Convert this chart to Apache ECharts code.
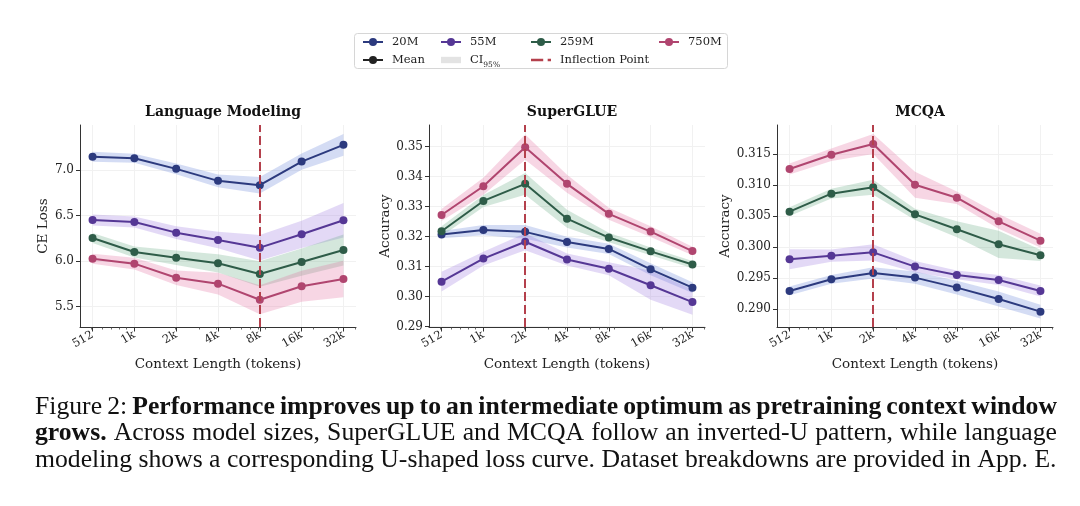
<!DOCTYPE html>
<html>
<head>
<meta charset="utf-8">
<script src="https://cdn.jsdelivr.net/npm/echarts@6/dist/echarts.min.js"></script>
<style>html,body{margin:0;padding:0;background:#fff}#c{width:1080px;height:506px}</style>
</head>
<body>
<div id="c"></div>
<script>
// ---------------- data ----------------
const contextLabels = ['512', '1k', '2k', '4k', '8k', '16k', '32k'];
const contextTokens = [512, 1024, 2048, 4096, 8192, 16384, 32768];
const minorTokens = [500, 600, 700, 800, 900, 2000, 3000, 4000, 5000, 6000, 7000, 8000, 9000, 20000, 30000, 40000];
const modelNames = ['20M', '55M', '259M', '750M'];
const panelTitles = ['Language Modeling', 'SuperGLUE', 'MCQA'];
const yAxisNames = ['CE Loss', 'Accuracy', 'Accuracy'];
const inflectionTokens = [8192, 2048, 2048];

// Language Modeling (CE loss), mean and CI half-width
const lm20 = [7.147, 7.132, 7.015, 6.883, 6.835, 7.095, 7.279];
const lm55 = [6.453, 6.431, 6.314, 6.233, 6.149, 6.296, 6.450];
const lm259 = [6.255, 6.101, 6.039, 5.977, 5.859, 5.991, 6.123];
const lm750 = [6.028, 5.973, 5.819, 5.753, 5.577, 5.724, 5.804];
const lm20ci = [0.055, 0.05, 0.06, 0.07, 0.09, 0.09, 0.12];
const lm55ci = [0.06, 0.06, 0.07, 0.09, 0.14, 0.15, 0.19];
const lm259ci = [0.055, 0.06, 0.08, 0.10, 0.14, 0.15, 0.17];
const lm750ci = [0.055, 0.065, 0.08, 0.12, 0.16, 0.17, 0.20];

// SuperGLUE accuracy
const sg20 = [0.3207, 0.3222, 0.3216, 0.3182, 0.3159, 0.3091, 0.3030];
const sg55 = [0.3050, 0.3127, 0.3183, 0.3124, 0.3093, 0.3038, 0.2982];
const sg259 = [0.3218, 0.3319, 0.3376, 0.3260, 0.3197, 0.3151, 0.3107];
const sg750 = [0.3272, 0.3368, 0.3498, 0.3376, 0.3276, 0.3217, 0.3152];
const sg20ci = [0.0012, 0.0017, 0.0023, 0.0018, 0.0017, 0.0020, 0.0018];
const sg55ci = [0.0033, 0.0023, 0.0028, 0.0020, 0.0022, 0.0048, 0.0042];
const sg259ci = [0.0017, 0.0020, 0.0036, 0.0030, 0.0016, 0.0013, 0.0012];
const sg750ci = [0.0020, 0.0028, 0.0042, 0.0030, 0.0020, 0.0018, 0.0014];

// MCQA accuracy
const mc20 = [0.29295, 0.29483, 0.29585, 0.29510, 0.29349, 0.29166, 0.28962];
const mc55 = [0.29805, 0.29864, 0.29917, 0.29687, 0.29553, 0.29472, 0.29295];
const mc259 = [0.30572, 0.30862, 0.30964, 0.30529, 0.30288, 0.30046, 0.29869];
const mc750 = [0.31259, 0.31489, 0.31661, 0.31006, 0.30797, 0.30416, 0.30105];
const mc20ci = [0.0007, 0.0007, 0.0009, 0.0010, 0.0011, 0.0012, 0.0011];
const mc55ci = [0.0016, 0.0010, 0.0013, 0.0009, 0.0007, 0.0008, 0.0009];
const mc259ci = [0.0007, 0.0008, 0.0012, 0.0009, 0.0013, 0.0022, 0.0009];
const mc750ci = [0.0009, 0.0010, 0.0016, 0.0021, 0.0010, 0.0012, 0.0011];

// axis ranges and tick values
const yTicks = [[5.5, 6.0, 6.5, 7.0], [0.29, 0.30, 0.31, 0.32, 0.33, 0.34, 0.35], [0.290, 0.295, 0.300, 0.305, 0.310, 0.315]];
const yRanges = [[5.277, 7.497], [0.2899, 0.3572], [0.28715, 0.31967]];
const yDecimals = [1, 2, 3];

const captionLines = [
  [['Figure 2: ', false], ['Performance improves up to an intermediate optimum as pretraining context window', true]],
  [['grows.', true], [' Across model sizes, SuperGLUE and MCQA follow an inverted-U pattern, while language', false]],
  [['modeling shows a corresponding U-shaped loss curve. Dataset breakdowns are provided in App. E.', false]]
];

const panelMeans = [[lm20, lm55, lm259, lm750], [sg20, sg55, sg259, sg750], [mc20, mc55, mc259, mc750]];
const panelCIs = [[lm20ci, lm55ci, lm259ci, lm750ci], [sg20ci, sg55ci, sg259ci, sg750ci], [mc20ci, mc55ci, mc259ci, mc750ci]];

// ---------------- style ----------------
const lineColors = ['#2c3a7e', '#553795', '#2e5c48', '#b0456f'];
const bandColors = ['rgba(95,125,215,0.27)', 'rgba(150,115,220,0.27)', 'rgba(95,165,125,0.27)', 'rgba(225,105,155,0.27)'];
const inflColor = '#b4404c';
const FONT = 'DejaVu Serif';
const gridLefts = [80, 429, 777];
const gridTop = 125, gridH = 202, gridW = 276;

const xs = contextTokens.map(t => Math.log2(t));
const xMin = 8.7, xMax = 15.3;

const grids = [], xAxes = [], yAxes = [], series = [], titles = [];
for (let p = 0; p < 3; p++) {
  grids.push({left: gridLefts[p], top: gridTop, width: gridW, height: gridH, containLabel: false});
  titles.push({
    text: panelTitles[p], left: gridLefts[p] + gridW / 2, top: 100, textAlign: 'center',
    textStyle: {fontFamily: FONT, fontWeight: 'bold', fontSize: 14, color: '#111'}
  });
  xAxes.push({
    type: 'value', gridIndex: p, min: xMin, max: xMax,
    name: 'Context Length (tokens)', nameLocation: 'middle', nameGap: 30,
    nameTextStyle: {fontFamily: FONT, fontSize: 13.5, color: '#222'},
    axisLine: {show: true, lineStyle: {color: '#333', width: 1}},
    axisTick: {show: true, length: 4.5, lineStyle: {color: '#333'}, customValues: xs},
    axisLabel: {
      customValues: xs, rotate: 30, margin: 7,
      fontFamily: FONT, fontSize: 11.5, color: '#222',
      formatter: v => contextLabels[Math.round(v) - 9]
    },
    splitLine: {show: true, lineStyle: {color: '#f1f1f1', width: 1}}
  });
  xAxes.push({
    type: 'value', gridIndex: p, min: xMin, max: xMax, position: 'bottom',
    axisLine: {show: false},
    axisTick: {show: true, length: 2.5, lineStyle: {color: '#444', width: 0.8}, customValues: minorTokens.map(t => Math.log2(t))},
    axisLabel: {show: false}, splitLine: {show: false}
  });
  yAxes.push({
    type: 'value', gridIndex: p, min: yRanges[p][0], max: yRanges[p][1],
    name: yAxisNames[p], nameLocation: 'middle', nameGap: [30, 37, 44][p],
    nameTextStyle: {fontFamily: FONT, fontSize: 13.5, color: '#222'},
    axisLine: {show: true, lineStyle: {color: '#333', width: 1}},
    axisTick: {show: true, length: 4, lineStyle: {color: '#333'}, customValues: yTicks[p]},
    axisLabel: {
      customValues: yTicks[p], margin: 6,
      fontFamily: FONT, fontSize: 12, color: '#222',
      formatter: v => v.toFixed(yDecimals[p])
    },
    splitLine: {show: true, lineStyle: {color: '#f1f1f1', width: 1}}
  });
}

// line series first (so legend icons take the line style)
for (let p = 0; p < 3; p++) {
  for (let m = 0; m < 4; m++) {
    series.push({
      type: 'line', name: modelNames[m], xAxisIndex: p * 2, yAxisIndex: p,
      data: xs.map((x, i) => [x, panelMeans[p][m][i]]),
      symbol: 'circle', symbolSize: 8, showSymbol: true,
      lineStyle: {color: lineColors[m], width: 2},
      itemStyle: {color: lineColors[m]},
      z: 4, silent: true, animation: false
    });
  }
}
// CI bands
for (let p = 0; p < 3; p++) {
  for (let m = 0; m < 4; m++) {
    const mean = panelMeans[p][m], ci = panelCIs[p][m], col = bandColors[m];
    series.push({
      type: 'custom', name: modelNames[m], xAxisIndex: p * 2, yAxisIndex: p,
      data: xs.map((x, i) => [x, mean[i] - ci[i], mean[i] + ci[i]]),
      encode: {x: 0, y: [1, 2]},
      renderItem: function (params, api) {
        if (params.dataIndex !== 0) return null;
        const pts = [];
        for (let i = 0; i < xs.length; i++) pts.push(api.coord([xs[i], mean[i] + ci[i]]));
        for (let i = xs.length - 1; i >= 0; i--) pts.push(api.coord([xs[i], mean[i] - ci[i]]));
        return {type: 'polygon', shape: {points: pts}, style: {fill: col, stroke: null}};
      },
      z: 1, silent: true, animation: false
    });
  }
  // inflection line
  series.push({
    type: 'line', name: 'Inflection Point', xAxisIndex: p * 2, yAxisIndex: p, data: [],
    symbol: 'none', lineStyle: {color: inflColor, width: 2, type: [8, 4]}, itemStyle: {color: inflColor},
    markLine: {
      silent: true, symbol: 'none', label: {show: false}, animation: false,
      lineStyle: {color: inflColor, width: 2, type: [9, 4]},
      data: [{xAxis: Math.log2(inflectionTokens[p])}]
    },
    z: 3, animation: false
  });
}
// legend-only series
series.push({type: 'line', name: 'Mean', xAxisIndex: 0, yAxisIndex: 0, data: [], symbol: 'circle', symbolSize: 8,
  lineStyle: {color: '#222', width: 2}, itemStyle: {color: '#222'}});
series.push({type: 'bar', name: 'CI95%', xAxisIndex: 0, yAxisIndex: 0, data: [], itemStyle: {color: '#e3e3e3'}});

const legendText = {fontFamily: FONT, fontSize: 11.5, color: '#222', padding: [0, 0, 0, 4],
  rich: {a: {fontFamily: FONT, fontSize: 11.5, color: '#222'}, s: {fontFamily: FONT, fontSize: 7.5, color: '#222', verticalAlign: 'bottom', lineHeight: 18}}};
const legendFmt = name => name === 'CI95%' ? '{a|CI}{s|95%}' : name;
function mkLegend(left, items) {
  return {
    left: left, top: 36, orient: 'vertical', itemGap: 6, itemWidth: 20, itemHeight: 10,
    padding: 0, selectedMode: false, textStyle: legendText, formatter: legendFmt,
    data: items
  };
}
const legends = [
  mkLegend(362, ['20M', 'Mean']),
  mkLegend(440, ['55M', {name: 'CI95%', icon: 'path://M0,0h22v7h-22z'}]),
  mkLegend(530, ['259M', {name: 'Inflection Point', icon: 'path://M0,0h11v2.4h-11z M15,0h3v2.4h-3z'}]),
  mkLegend(658, ['750M'])
];

// caption (justified lines) as real text
function buildCaption() {
  const ctx = document.createElement('canvas').getContext('2d');
  const fs = 25.7, fam = '"Liberation Serif", "Times New Roman", serif';
  const x0 = 35, x1 = 1057;
  const baseY = [407, 433.7, 460.4];
  const els = [];
  captionLines.forEach((line, li) => {
    const words = [];
    line.forEach(([txt, bold]) => {
      txt.split(' ').forEach(w => { if (w.length) words.push([w, bold]); });
    });
    let total = 0;
    const widths = words.map(([w, b]) => {
      ctx.font = (b ? 'bold ' : '') + fs + 'px ' + fam;
      const wd = ctx.measureText(w).width; total += wd; return wd;
    });
    ctx.font = fs + 'px ' + fam;
    const spaceW = ctx.measureText(' ').width;
    let gap = spaceW;
    if (li < 2) gap = (x1 - x0 - total) / (words.length - 1);
    let x = x0;
    words.forEach(([w, b], i) => {
      els.push({type: 'text', x: x, y: baseY[li], silent: true,
        style: {text: w, fontFamily: fam, fontSize: fs, fontWeight: b ? 'bold' : 'normal', fill: '#111', verticalAlign: 'middle', align: 'left'}});
      x += widths[i] + gap;
    });
  });
  return els;
}

const graphics = [
  {type: 'rect', left: 354, top: 33, shape: {width: 373, height: 35, r: 3}, style: {fill: '#fff', stroke: '#d6d6d6', lineWidth: 1}, z: 0, silent: true}
].concat(buildCaption());

const chart = echarts.init(document.getElementById('c'), null, {renderer: 'canvas'});
chart.setOption({
  backgroundColor: '#fff',
  animation: false,
  title: titles,
  grid: grids,
  xAxis: xAxes,
  yAxis: yAxes,
  legend: legends,
  graphic: graphics,
  series: series
});
</script>
</body>
</html>
